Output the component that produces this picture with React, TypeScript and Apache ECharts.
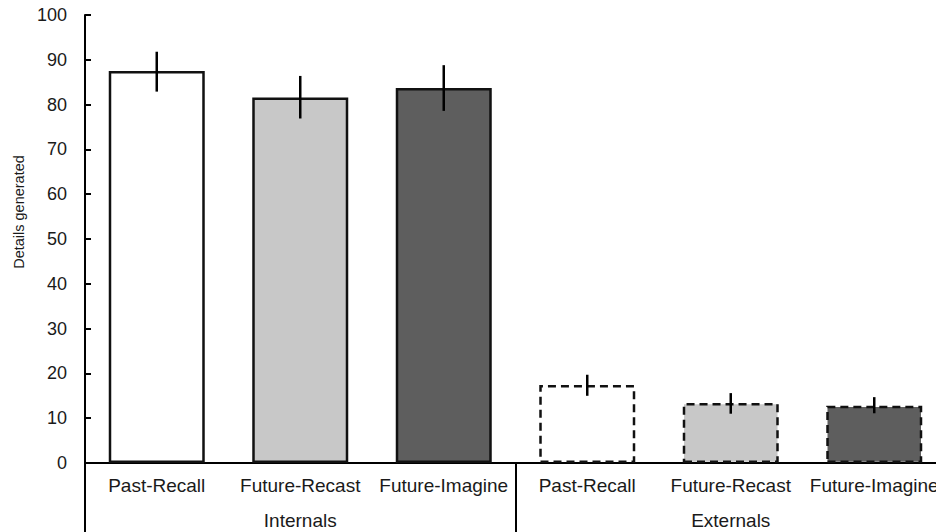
import React, { useEffect, useRef } from "react";
import * as echarts from "echarts";

const categories = ["Past-Recall", "Future-Recast", "Future-Imagine", "Past-Recall", "Future-Recast", "Future-Imagine"];
const groups = ["Internals", "Externals"];
const means = [87.5, 81.6, 83.7, 17.4, 13.4, 12.8];
const errLow = [82.9, 76.9, 78.6, 15.0, 11.0, 11.1];
const errHigh = [91.8, 86.4, 88.8, 19.7, 15.6, 14.7];
const fills = ["#ffffff", "#c8c8c8", "#5e5e5e", "#ffffff", "#c8c8c8", "#5e5e5e"];
const dashed = [false, false, false, true, true, true];
const yTicks = { min: 0, max: 100, interval: 10 };

export default function App() {
  const ref = useRef<HTMLDivElement>(null);
  useEffect(() => {
    if (!ref.current) return;
    const chart = echarts.init(ref.current, null, { renderer: "svg" });
    const font = "Liberation Sans, Arial, sans-serif";
    chart.setOption({
      animation: false,
      backgroundColor: "#ffffff",
      grid: { left: 85, top: 15, width: 861, height: 448, containLabel: false },
      graphic: [
        {
          type: "text",
          x: 19,
          y: 212,
          rotation: Math.PI / 2,
          style: {
            text: "Details generated",
            fontFamily: font,
            fontSize: 14.5,
            fill: "#1a1a1a",
            align: "center",
            verticalAlign: "middle",
          },
        },
      ],
      xAxis: [
        {
          type: "category",
          data: categories,
          position: "bottom",
          axisLine: { show: true, lineStyle: { color: "#000", width: 2 } },
          axisTick: { show: false },
          axisLabel: { interval: 0, margin: 13, fontSize: 19, fontFamily: font, color: "#1a1a1a" },
          splitLine: { show: false },
        },
        {
          type: "category",
          data: groups,
          position: "bottom",
          axisLine: { show: false },
          axisTick: { show: true, length: 72, interval: 0, lineStyle: { color: "#000", width: 2 } },
          axisLabel: { interval: 0, margin: 48, fontSize: 19, fontFamily: font, color: "#1a1a1a" },
          splitLine: { show: false },
        },
      ],
      yAxis: {
        type: "value",
        min: yTicks.min,
        max: yTicks.max,
        interval: yTicks.interval,
        axisLine: { show: true, lineStyle: { color: "#000", width: 2 } },
        axisTick: { show: true, inside: true, length: 6, lineStyle: { color: "#000", width: 2 } },
        axisLabel: { margin: 18, fontSize: 18, fontFamily: font, color: "#1a1a1a" },
        splitLine: { show: false },
      },
      series: [
        {
          type: "bar",
          xAxisIndex: 0,
          barWidth: 96,
          data: means.map((v, i) => ({
            value: v,
            itemStyle: {
              color: fills[i],
              borderColor: "#111",
              borderWidth: 2.5,
              borderType: dashed[i] ? [8, 5] : "solid",
            },
          })),
        },
        {
          type: "custom",
          xAxisIndex: 0,
          data: categories.map((_, i) => [i, errLow[i], errHigh[i]]),
          renderItem: (params: any, api: any) => {
            const lo = api.coord([api.value(0), api.value(1)]);
            const hi = api.coord([api.value(0), api.value(2)]);
            return {
              type: "line",
              shape: { x1: lo[0], y1: lo[1], x2: hi[0], y2: hi[1] },
              style: { stroke: "#000", lineWidth: 2.5 },
            };
          },
          z: 5,
        },
      ],
    });
    return () => chart.dispose();
  }, []);
  return (
    <div
      style={{ position: "fixed", left: 0, top: 0, width: 936, height: 532, overflow: "hidden", background: "#fff" }}
    >
      <div ref={ref} style={{ width: 980, height: 532 }} />
    </div>
  );
}
